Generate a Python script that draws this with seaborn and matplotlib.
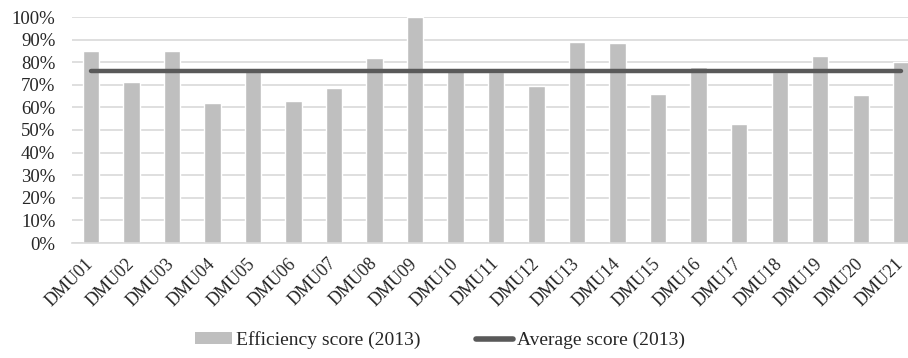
import numpy as np
import pandas as pd
import matplotlib
matplotlib.use("Agg")
import matplotlib.pyplot as plt
import seaborn as sns
from matplotlib.ticker import PercentFormatter
from matplotlib.patches import Patch
from matplotlib.lines import Line2D

# datos
dmus = ["DMU01", "DMU02", "DMU03", "DMU04", "DMU05", "DMU06", "DMU07",
        "DMU08", "DMU09", "DMU10", "DMU11", "DMU12", "DMU13", "DMU14",
        "DMU15", "DMU16", "DMU17", "DMU18", "DMU19", "DMU20", "DMU21"]
efficiency = [0.851, 0.712, 0.848, 0.621, 0.760, 0.630, 0.686,
              0.819, 1.000, 0.774, 0.755, 0.693, 0.888, 0.883,
              0.659, 0.780, 0.528, 0.758, 0.829, 0.655, 0.799]
average_score = 0.760

df = pd.DataFrame({"DMU": dmus, "Efficiency": efficiency})
df["Average"] = average_score

sns.set_style("white")
plt.rcParams["font.family"] = ["Liberation Serif", "DejaVu Serif"]

fig = plt.figure(figsize=(9.08, 3.58), dpi=100)
ax = fig.add_axes([72 / 908, 115 / 358, 1 - 72 / 908, (243 - 17) / 358])

sns.barplot(df, x="DMU", y="Efficiency", color="#bfbfbf", saturation=1,
            width=0.4, ax=ax, zorder=2)
ax.plot(df["DMU"], df["Average"], color="#595959", linewidth=3.2,
        solid_capstyle="round", zorder=3)

ax.set_ylim(0, 1.0)
ax.set_xlim(-0.47, 20.17)
ax.yaxis.set_major_locator(plt.MultipleLocator(0.1))
ax.yaxis.set_major_formatter(PercentFormatter(1.0, decimals=0))
ax.grid(axis="y", color="#d9d9d9", linewidth=1.2, zorder=0)
ax.set_axisbelow(True)
for s in ["top", "right", "left"]:
    ax.spines[s].set_visible(False)
ax.spines["bottom"].set_color("#d9d9d9")
ax.spines["bottom"].set_linewidth(1.2)
ax.set_xlabel("")
ax.set_ylabel("")
ax.tick_params(axis="y", length=0, labelsize=13.5, pad=12)
ax.tick_params(axis="x", length=0, labelsize=13, pad=13)
plt.setp(ax.get_xticklabels(), rotation=45, ha="right", va="center",
         rotation_mode="anchor")

handles = [Patch(facecolor="#bfbfbf", edgecolor="none"),
           Line2D([0], [0], color="#595959", linewidth=4)]
fig.legend(handles, ["Efficiency score (2013)", "Average score (2013)"],
           loc="center", bbox_to_anchor=(440 / 908, 1 - 340 / 358), ncol=2,
           frameon=False, fontsize=14, handlelength=1.9, handleheight=0.55,
           handletextpad=0.2, columnspacing=2.9)

fig.savefig("out.png", dpi=100)
